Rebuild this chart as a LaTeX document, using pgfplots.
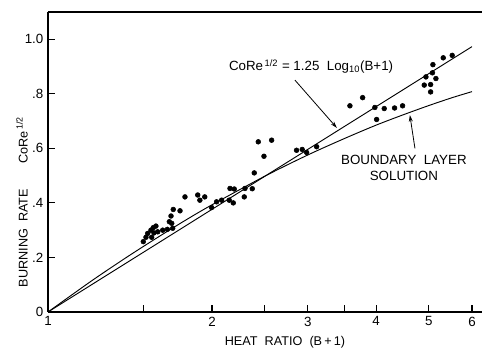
\documentclass[border=0pt]{standalone}
\usepackage{fontspec}
\setmainfont{Liberation Sans}
\usepackage{pgfplots}
\pgfplotsset{compat=1.18}
\usetikzlibrary{arrows.meta}

\pgfplotstableread{
x y
1.496 0.258
1.513 0.274
1.524 0.288
1.545 0.300
1.560 0.309
1.578 0.315
1.550 0.274
1.565 0.290
1.590 0.294
1.624 0.300
1.656 0.303
1.670 0.331
1.687 0.325
1.694 0.307
1.682 0.352
1.698 0.376
1.747 0.371
1.784 0.422
1.883 0.429
1.940 0.422
1.900 0.410
1.997 0.383
2.039 0.404
2.083 0.410
2.158 0.453
2.197 0.451
2.151 0.410
2.188 0.400
2.299 0.453
2.371 0.452
2.292 0.422
2.391 0.510
2.432 0.624
2.491 0.571
2.573 0.630
2.859 0.593
2.928 0.596
2.983 0.585
3.112 0.606
3.582 0.756
3.780 0.786
3.981 0.750
4.010 0.706
4.141 0.746
4.326 0.748
4.475 0.756
5.087 0.907
4.939 0.862
5.077 0.877
5.152 0.856
4.904 0.832
5.038 0.834
5.038 0.807
5.314 0.932
5.519 0.941
}\measured

\begin{document}
\begin{tikzpicture}
\begin{axis}[
  at={(0pt,0pt)}, anchor=south west,
  scale only axis, width=325.5pt, height=225pt,
  xmode=log, xmin=1, xmax=6.26, ymin=0, ymax=1.1,
  axis x line*=bottom, axis y line*=left,
  axis line style={-, line width=0.9pt},
  xtick={1,2,3,4,5,6}, xticklabels={1,2,3,4,5,6},
  extra x ticks={1.5,2.5,3.5}, extra x tick labels={},
  xminorticks=false,
  ytick={0,0.2,0.4,0.6,0.8,1.0}, yticklabels={0,.2,.4,.6,.8,1.0},
  tick align=inside, major tick length=5pt,
  tick style={line width=0.8pt, black},
  tick label style={font=\fontsize{10}{12}\selectfont},
  every axis x label/.style={at={(rel axis cs:0.546,0)}, yshift=-22.5pt, anchor=center},
  every axis y label/.style={at={(rel axis cs:0,0.367)}, xshift=-19.5pt, rotate=90, anchor=center},
  label style={font=\fontsize{9.5}{11}\selectfont},
  xlabel={HEAT\ \ RATIO\ \ (B\,+\,1)},
  ylabel={BURNING\ \ RATE\qquad CoRe\textsuperscript{\,1/2}},
  clip=false,
]
\addplot[black, line width=0.7pt] coordinates {(1,0) (6,0.973)};
\addplot[black, line width=0.7pt, smooth] coordinates {
(1,0) (1.2,0.113) (1.4,0.203) (1.6,0.277) (1.8,0.340) (2,0.393)
(2.5,0.498) (3,0.576) (3.5,0.636) (4,0.685) (4.5,0.724) (5,0.757)
(5.5,0.785) (6,0.808)};
\addplot[only marks, mark=*, mark size=1.8pt, black] table[x=x,y=y] {\measured};
\draw[line width=0.9pt] (rel axis cs:0,1) -- (rel axis cs:1,1);
\node[font=\fontsize{10}{12}\selectfont] at (axis cs:3.04,0.90) {CoRe\textsuperscript{\,1/2} = 1.25\ \ Log\textsubscript{10}(B+1)};
\draw[line width=0.6pt, -{Stealth[length=5pt,width=3pt]}] (axis cs:2.84,0.85) -- (axis cs:3.39,0.675);
\node[font=\fontsize{10}{12}\selectfont, align=center] at (axis cs:4.50,0.527) {BOUNDARY\ \ LAYER\\SOLUTION};
\draw[line width=0.6pt, -{Stealth[length=5pt,width=3pt]}] (axis cs:4.715,0.60) -- (axis cs:4.615,0.722);
\end{axis}
\pgfresetboundingbox
\path (-36pt,-27pt) rectangle (325.5pt,234pt);
\end{tikzpicture}
\end{document}
